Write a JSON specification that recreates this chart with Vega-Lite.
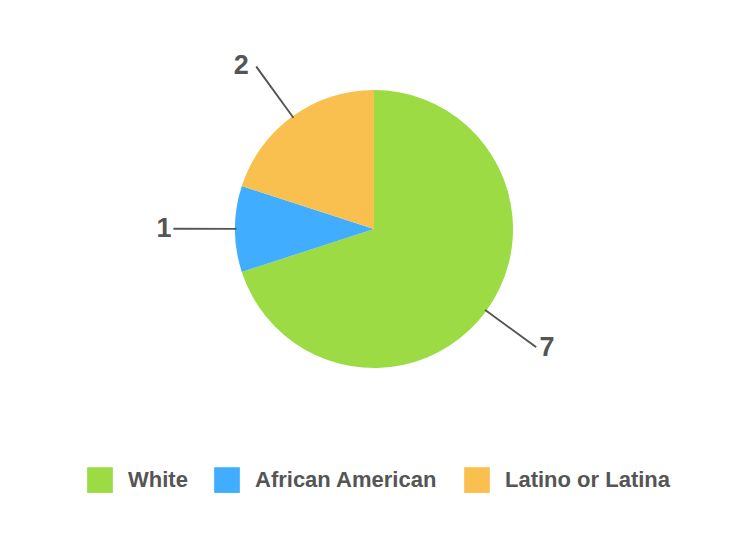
{
  "$schema": "https://vega.github.io/schema/vega-lite/v6.json",
  "width": 748,
  "height": 458,
  "padding": 0,
  "autosize": {"type": "pad"},
  "background": "white",
  "config": {"view": {"stroke": null}, "font": "Liberation Sans"},
  "data": {
    "values": [
      {"category": "White", "value": 7, "order": 1, "mid": 3.5, "mid2": 3.504, "labelAt": 3.46},
      {"category": "African American", "value": 1, "order": 2, "mid": 7.5, "mid2": 7.504, "labelAt": 7.5},
      {"category": "Latino or Latina", "value": 2, "order": 3, "mid": 9, "mid2": 9.004, "labelAt": 8.91}
    ]
  },
  "layer": [
    {
      "mark": {"type": "arc", "outerRadius": 139},
      "encoding": {
        "theta": {"field": "value", "type": "quantitative", "stack": true, "scale": {"domain": [0, 10]}},
        "order": {"field": "order", "type": "quantitative"},
        "color": {
          "field": "category",
          "type": "nominal",
          "sort": ["White", "African American", "Latino or Latina"],
          "scale": {"domain": ["White", "African American", "Latino or Latina"], "range": ["#9ddb45", "#40adff", "#f9bf4f"]},
          "legend": {
            "orient": "none",
            "legendX": 87,
            "legendY": 467,
            "direction": "horizontal",
            "title": null,
            "symbolType": "square",
            "symbolSize": 660,
            "symbolStrokeWidth": 0,
            "labelFontSize": 22,
            "labelFontWeight": "bold",
            "labelColor": "#555555",
            "labelFont": "Liberation Sans",
            "labelOffset": 15,
            "columnPadding": 26,
            "labelLimit": 400
          }
        }
      }
    },
    {
      "mark": {"type": "arc", "radius": 200, "radius2": 138, "fill": "#555555", "stroke": "#555555", "strokeWidth": 1.5, "strokeJoin": "round"},
      "encoding": {
        "theta": {"field": "mid", "type": "quantitative", "stack": null, "scale": {"domain": [0, 10]}},
        "theta2": {"field": "mid2"}
      }
    },
    {
      "mark": {"type": "text", "radius": 210, "fontSize": 27, "fontWeight": "bold", "fill": "#555555", "align": "center", "baseline": "middle", "font": "Liberation Sans"},
      "encoding": {
        "theta": {"field": "labelAt", "type": "quantitative", "stack": null, "scale": {"domain": [0, 10]}},
        "text": {"field": "value", "type": "quantitative"}
      }
    }
  ]
}
